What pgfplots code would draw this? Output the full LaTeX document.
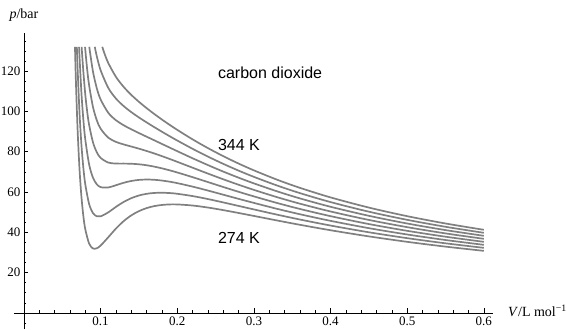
\documentclass[border=0pt]{standalone}
\usepackage{fontspec}
\setmainfont{Liberation Serif}
\newfontfamily\arial{Liberation Sans}
\newfontfamily\tnr{Liberation Serif}
\usepackage{pgfplots}
\pgfplotsset{compat=1.18}
\definecolor{curve}{RGB}{128,128,128}
\pgfplotsset{iso/.style={color=curve, line width=1.7pt, solid, smooth, mark=none}}
\begin{document}
\begin{tikzpicture}
\begin{axis}[
  scale only axis, width=479pt, height=296.3pt,
  xmin=-0.013, xmax=0.612, ymin=-8, ymax=139,
  axis lines=middle, clip=false,
  axis line style={-, line width=0.6pt, black},
  xtick={0.1,0.2,0.3,0.4,0.5,0.6},
  ytick={20,40,60,80,100,120},
  minor xtick={0.02,0.04,0.06,0.08,0.12,0.14,0.16,0.18,0.22,0.24,0.26,0.28,0.32,0.34,0.36,0.38,0.42,0.44,0.46,0.48,0.52,0.54,0.56,0.58},
  minor ytick={-5,5,10,15,25,30,35,45,50,55,65,70,75,85,90,95,105,110,115,125,130,135},
  tick align=inside,
  major tick length=4.5pt, minor tick length=2.5pt,
  tick style={black, line width=0.5pt},
  ticklabel style={font=\tnr\fontsize{13}{15}\selectfont},
  xticklabel style={/pgf/number format/fixed},
  /pgf/number format/assume math mode=true,
]
% 274 K
\addplot[iso] coordinates {(0.06656,132) (0.067,125.48) (0.068,112.20) (0.07,90.72) (0.0725,71.20) (0.075,57.55) (0.0775,48.05) (0.08,41.52) (0.085,34.38) (0.09,31.95) (0.095,32.04) (0.10,33.38) (0.11,37.52) (0.12,41.82) (0.13,45.49) (0.14,48.36) (0.15,50.48) (0.16,51.98) (0.17,52.97) (0.18,53.54) (0.19,53.80) (0.20,53.80) (0.22,53.26) (0.24,52.26) (0.26,50.98) (0.28,49.56) (0.30,48.09) (0.33,45.86) (0.36,43.70) (0.40,41.00) (0.45,37.95) (0.50,35.25) (0.55,32.87) (0.60,30.77)};
% 284 K
\addplot[iso] coordinates {(0.0690,132) (0.07,121.15) (0.0725,99.08) (0.075,83.27) (0.0775,71.92) (0.08,63.79) (0.085,54.03) (0.09,49.52) (0.095,47.93) (0.10,47.89) (0.11,49.87) (0.12,52.58) (0.13,55.01) (0.14,56.90) (0.15,58.23) (0.16,59.07) (0.17,59.50) (0.18,59.59) (0.19,59.45) (0.20,59.09) (0.22,57.95) (0.24,56.47) (0.26,54.80) (0.28,53.06) (0.30,51.32) (0.33,48.75) (0.36,46.32) (0.40,43.33) (0.45,39.99) (0.50,37.07) (0.55,34.51) (0.60,32.26)};
% 294 K
\addplot[iso] coordinates {(0.0719,132) (0.0725,126.95) (0.075,108.99) (0.0775,95.79) (0.08,86.07) (0.085,73.67) (0.09,67.09) (0.095,63.82) (0.10,62.39) (0.11,62.22) (0.12,63.33) (0.13,64.53) (0.14,65.44) (0.15,65.97) (0.16,66.15) (0.17,66.03) (0.18,65.65) (0.19,65.09) (0.20,64.37) (0.22,62.64) (0.24,60.69) (0.26,58.63) (0.28,56.57) (0.30,54.56) (0.33,51.64) (0.36,48.94) (0.40,45.66) (0.45,42.03) (0.50,38.89) (0.55,36.15) (0.60,33.75)};
% 304 K
\addplot[iso] coordinates {(0.0752,132) (0.0775,119.66) (0.08,108.35) (0.0825,99.81) (0.085,93.31) (0.09,84.65) (0.095,79.71) (0.10,76.89) (0.11,74.57) (0.12,74.08) (0.13,74.06) (0.14,73.98) (0.15,73.72) (0.16,73.24) (0.17,72.56) (0.18,71.70) (0.19,70.73) (0.20,69.66) (0.22,67.33) (0.24,64.90) (0.26,62.45) (0.28,60.07) (0.30,57.79) (0.33,54.54) (0.36,51.56) (0.40,47.99) (0.45,44.07) (0.50,40.71) (0.55,37.79) (0.60,35.24)};
% 314 K
\addplot[iso] coordinates {(0.0797,132) (0.08,130.62) (0.0825,120.68) (0.085,112.95) (0.09,102.22) (0.095,95.59) (0.10,91.39) (0.11,86.92) (0.12,84.83) (0.13,83.58) (0.14,82.53) (0.15,81.47) (0.16,80.32) (0.17,79.09) (0.18,77.76) (0.19,76.38) (0.20,74.94) (0.22,72.02) (0.24,69.11) (0.26,66.28) (0.28,63.57) (0.30,61.02) (0.33,57.43) (0.36,54.18) (0.40,50.31) (0.45,46.11) (0.50,42.53) (0.55,39.43) (0.60,36.74)};
% 324 K
\addplot[iso] coordinates {(0.0852,132) (0.09,119.79) (0.095,111.48) (0.10,105.90) (0.11,99.27) (0.12,95.58) (0.13,93.10) (0.14,91.07) (0.15,89.21) (0.16,87.41) (0.17,85.62) (0.18,83.81) (0.19,82.02) (0.20,80.23) (0.22,76.70) (0.24,73.33) (0.26,70.10) (0.28,67.08) (0.30,64.25) (0.33,60.33) (0.36,56.80) (0.40,52.64) (0.45,48.16) (0.50,44.34) (0.55,41.07) (0.60,38.23)};
% 334 K
\addplot[iso] coordinates {(0.0924,132) (0.095,127.37) (0.10,120.40) (0.11,111.62) (0.12,106.34) (0.13,102.62) (0.14,99.61) (0.15,96.96) (0.16,94.50) (0.17,92.15) (0.18,89.87) (0.19,87.66) (0.20,85.51) (0.22,81.39) (0.24,77.54) (0.26,73.93) (0.28,70.58) (0.30,67.48) (0.33,63.22) (0.36,59.42) (0.40,54.97) (0.45,50.20) (0.50,46.16) (0.55,42.71) (0.60,39.72)};
% 344 K
\addplot[iso] coordinates {(0.1022,132) (0.105,128.73) (0.11,123.97) (0.12,117.09) (0.13,112.14) (0.14,108.15) (0.15,104.71) (0.16,101.59) (0.17,98.68) (0.18,95.92) (0.19,93.30) (0.20,90.80) (0.22,86.08) (0.24,81.75) (0.26,77.76) (0.28,74.08) (0.30,70.71) (0.33,66.11) (0.36,62.04) (0.40,57.29) (0.45,52.24) (0.50,47.98) (0.55,44.35) (0.60,41.21)};

\node[anchor=west, inner sep=0pt, font=\arial\fontsize{16}{18}\selectfont] at (axis cs:0.253,119) {carbon dioxide};
\node[anchor=west, inner sep=0pt, font=\arial\fontsize{16}{18}\selectfont] at (axis cs:0.253,83.3) {344 K};
\node[anchor=west, inner sep=0pt, font=\arial\fontsize{16}{18}\selectfont] at (axis cs:0.253,37.4) {274 K};
\node[anchor=west, inner sep=0pt, xshift=15pt, yshift=2pt, font=\tnr\fontsize{14}{16}\selectfont] at (axis cs:0.612,0) {\textit{V}/L mol\textsuperscript{−1}};
\node[anchor=south, inner sep=0pt, yshift=11pt, font=\tnr\fontsize{14}{16}\selectfont] at (axis cs:0,139) {\textit{p}/bar};
\coordinate (sw) at (rel axis cs:0,0);
\coordinate (ne) at (rel axis cs:1,1);
\end{axis}
\pgfresetboundingbox
\path[use as bounding box] ([xshift=-14pt]sw) rectangle ([xshift=74pt,yshift=32.7pt]ne);
\end{tikzpicture}
\end{document}
